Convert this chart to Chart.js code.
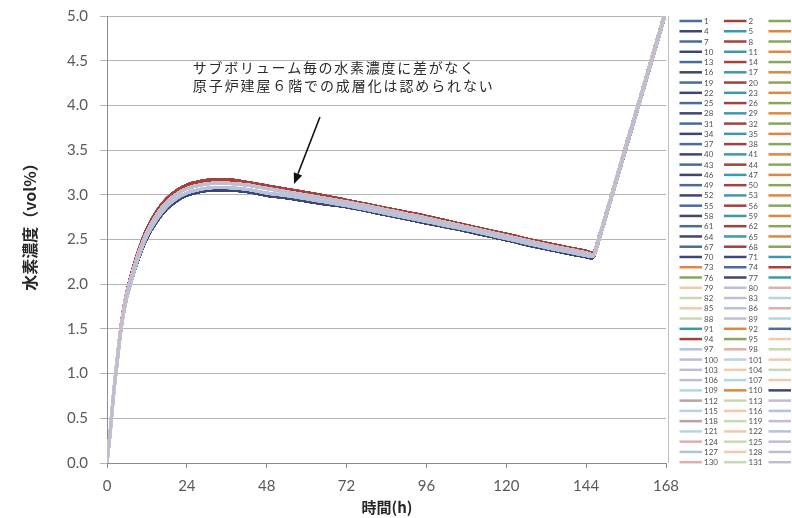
<!DOCTYPE html>
<html>
<head>
<meta charset="utf-8">
<script src="https://cdn.jsdelivr.net/npm/chart.js@4.4.1/dist/chart.umd.min.js"></script>
<style>
  html, body { margin: 0; padding: 0; background: #fff; }
  canvas { display: block; }
</style>
</head>
<body>
<canvas id="myChart" width="792" height="518"></canvas>
<script>
// elapsed time (h)
const hours = [0, 1, 2, 3, 4, 5, 6, 8, 10, 12, 15, 18, 21, 24, 28, 32, 36, 42, 48, 56, 64, 72, 84, 96, 108, 120, 132, 140, 144, 146, 148, 152, 156, 160, 164, 168];

// hydrogen concentration (vol%)
const h2Top    = [0, 0.38, 0.80, 1.15, 1.48, 1.73, 1.92, 2.20, 2.43, 2.62, 2.82, 2.96, 3.05, 3.11, 3.15, 3.17, 3.17, 3.14, 3.10, 3.05, 3.00, 2.94, 2.85, 2.76, 2.66, 2.56, 2.46, 2.40, 2.37, 2.35, 2.55, 3.05, 3.56, 4.06, 4.57, 5.08];
const h2Upper  = [0, 0.37, 0.79, 1.13, 1.46, 1.71, 1.90, 2.17, 2.40, 2.58, 2.78, 2.92, 3.01, 3.07, 3.11, 3.13, 3.13, 3.11, 3.07, 3.02, 2.97, 2.92, 2.83, 2.74, 2.64, 2.54, 2.44, 2.38, 2.35, 2.33, 2.54, 3.04, 3.55, 4.05, 4.56, 5.07];
const h2Lower  = [0, 0.35, 0.77, 1.10, 1.43, 1.68, 1.86, 2.13, 2.36, 2.54, 2.73, 2.87, 2.96, 3.02, 3.06, 3.08, 3.08, 3.06, 3.02, 2.98, 2.93, 2.88, 2.79, 2.70, 2.61, 2.51, 2.41, 2.35, 2.32, 2.31, 2.52, 3.02, 3.53, 4.03, 4.54, 5.05];
const h2Bottom = [0, 0.34, 0.75, 1.08, 1.41, 1.66, 1.84, 2.11, 2.33, 2.51, 2.70, 2.84, 2.93, 2.99, 3.03, 3.05, 3.05, 3.03, 2.99, 2.95, 2.90, 2.86, 2.77, 2.68, 2.59, 2.49, 2.39, 2.33, 2.30, 2.29, 2.50, 3.00, 3.51, 4.01, 4.52, 5.03];

// sub-volume names 1..132 and the colour code of each line in the legend
const seriesNames = Array.from({ length: 132 }, (_, i) => String(i + 1));
const colourCodes = ('BRGPAO'.repeat(11) + 'BRGP' + 'PAOBRGPA' + 'obrgpaobrgpa' + 'AOBRGo' +
  'brgpao' + 'pogpao' + 'aOPmgp' + 'aobmgp' + 'aobrgp' + 'boprgp').split('');

const yTicks = [0, 0.5, 1, 1.5, 2, 2.5, 3, 3.5, 4, 4.5, 5];
const xTicks = [0, 24, 48, 72, 96, 120, 144, 168];

const noteLines = ['サブボリューム毎の水素濃度に差がなく', '原子炉建屋６階での成層化は認められない'];

const palette = {
  B: '#4A6B9E', R: '#A4413F', G: '#8AA65A', P: '#3F4673', A: '#3E97AD', O: '#DE8740',
  b: '#B4C2DA', r: '#DDB0AE', g: '#CAD8B0', p: '#C3BBD3', a: '#B4D6DF', o: '#F2C9AA', m: '#B9A3A7'
};

function profileFor(code) {
  if (code === 'R') return h2Top;
  if (code === 'P') return h2Bottom;
  if ('BAba'.includes(code)) return h2Lower;
  return h2Upper;
}

function widthFor(code) {
  if (code === 'R') return 2.6;
  if (code === 'P') return 2.0;
  return code === code.toLowerCase() ? 2.9 : 2.0;
}

const datasets = seriesNames.map((name, i) => {
  const values = profileFor(colourCodes[i]);
  return {
    label: name,
    data: hours.map((h, k) => ({ x: h, y: values[k] })),
    borderColor: palette[colourCodes[i]],
    borderWidth: widthFor(colourCodes[i]),
    pointRadius: 0,
    cubicInterpolationMode: 'monotone',
    clip: 0,
    order: seriesNames.length - i
  };
});

const gridColour = '#B4B4B4';
const axisColour = '#8C8C8C';
const tickFont = { family: 'Lato', size: 15 };

const framePlugin = {
  id: 'frame',
  beforeDatasetsDraw(chart) {
    const { ctx, chartArea } = chart;
    ctx.save();
    ctx.strokeStyle = '#BDBDBD';
    ctx.lineWidth = 1;
    ctx.beginPath();
    ctx.moveTo(chartArea.right + 2.5, chartArea.top);
    ctx.lineTo(chartArea.right + 2.5, chartArea.bottom);
    ctx.stroke();
    ctx.restore();
  },
  afterDraw(chart) {
    const ctx = chart.ctx;
    ctx.save();
    ctx.fillStyle = '#262626';
    ctx.textAlign = 'center';
    ctx.textBaseline = 'middle';
    ctx.font = 'bold 15px "Noto Sans CJK JP"';
    ctx.fillText('時間(h)', 387, 507);
    ctx.translate(30, 223);
    ctx.rotate(-Math.PI / 2);
    ctx.font = 'bold 16px "Noto Sans CJK JP"';
    ctx.fillText('水素濃度（vol%）', 0, 0);
    ctx.restore();
  }
};

const notePlugin = {
  id: 'notes',
  afterDatasetsDraw(chart) {
    const { ctx, scales: { x, y } } = chart;
    ctx.save();
    ctx.fillStyle = '#2A2A2A';
    ctx.font = '14px "Noto Sans CJK JP"';
    ctx.textAlign = 'left';
    ctx.textBaseline = 'middle';
    const widths = [283, 302];
    noteLines.forEach((line, i) => {
      ctx.letterSpacing = '0px';
      const w = ctx.measureText(line).width;
      ctx.letterSpacing = ((widths[i] - w) / line.length).toFixed(2) + 'px';
      ctx.fillText(line, x.getPixelForValue(25.8), y.getPixelForValue(4.42 - i * 0.2));
    });
    ctx.letterSpacing = '0px';

    // arrow pointing at the curves
    const x0 = x.getPixelForValue(64.0), y0 = y.getPixelForValue(3.87);
    const x1 = x.getPixelForValue(56.2), y1 = y.getPixelForValue(3.12);
    const ang = Math.atan2(y1 - y0, x1 - x0);
    const len = 11, half = 4.5;
    const bx = x1 - len * Math.cos(ang), by = y1 - len * Math.sin(ang);
    ctx.strokeStyle = '#111';
    ctx.fillStyle = '#111';
    ctx.lineWidth = 1.6;
    ctx.beginPath();
    ctx.moveTo(x0, y0);
    ctx.lineTo(bx, by);
    ctx.stroke();
    ctx.beginPath();
    ctx.moveTo(x1, y1);
    ctx.lineTo(bx + half * Math.sin(ang), by - half * Math.cos(ang));
    ctx.lineTo(bx - half * Math.sin(ang), by + half * Math.cos(ang));
    ctx.closePath();
    ctx.fill();
    ctx.restore();
  }
};

const keyPlugin = {
  id: 'seriesKey',
  afterDraw(chart) {
    const ctx = chart.ctx;
    ctx.save();
    ctx.font = '8px Lato';
    ctx.fillStyle = '#505050';
    ctx.textAlign = 'left';
    ctx.textBaseline = 'middle';
    ctx.lineWidth = 2.5;
    chart.data.datasets.forEach((ds, i) => {
      const col = i % 3, row = Math.floor(i / 3);
      const lx = 679.5 + col * 44.5;
      const ly = 21 + row * 10.26;
      ctx.strokeStyle = ds.borderColor;
      ctx.beginPath();
      ctx.moveTo(lx, ly);
      ctx.lineTo(lx + 22.5, ly);
      ctx.stroke();
      if (col < 2) ctx.fillText(ds.label, lx + 24.5, ly + 0.5);
    });
    ctx.restore();
  }
};

new Chart(document.getElementById('myChart'), {
  type: 'line',
  data: { datasets },
  options: {
    responsive: false,
    animation: false,
    events: [],
    layout: { padding: { left: 0, top: 16, right: 126, bottom: 0 } },
    plugins: {
      legend: { display: false },
      tooltip: { enabled: false }
    },
    scales: {
      x: {
        type: 'linear',
        min: 0,
        max: 168,
        afterFit: (s) => { s.height = 55; s.paddingLeft = 0; s.paddingRight = 0; },
        afterBuildTicks: (s) => { s.ticks = xTicks.map(v => ({ value: v })); },
        ticks: { color: '#595959', font: tickFont, padding: 9, maxRotation: 0,
          callback: (v) => String(v) },
        grid: { drawOnChartArea: false, tickLength: 5, color: axisColour },
        border: { color: axisColour }
      },
      y: {
        min: 0,
        max: 5,
        afterFit: (s) => { s.width = 107; s.paddingTop = 0; s.paddingBottom = 0; },
        afterBuildTicks: (s) => { s.ticks = yTicks.map(v => ({ value: v })); },
        ticks: { color: '#595959', font: tickFont, padding: 12,
          callback: (v) => Number(v).toFixed(1) },
        grid: { color: gridColour, tickLength: 7 },
        border: { color: axisColour }
      }
    }
  },
  plugins: [framePlugin, notePlugin, keyPlugin]
});
</script>
</body>
</html>
